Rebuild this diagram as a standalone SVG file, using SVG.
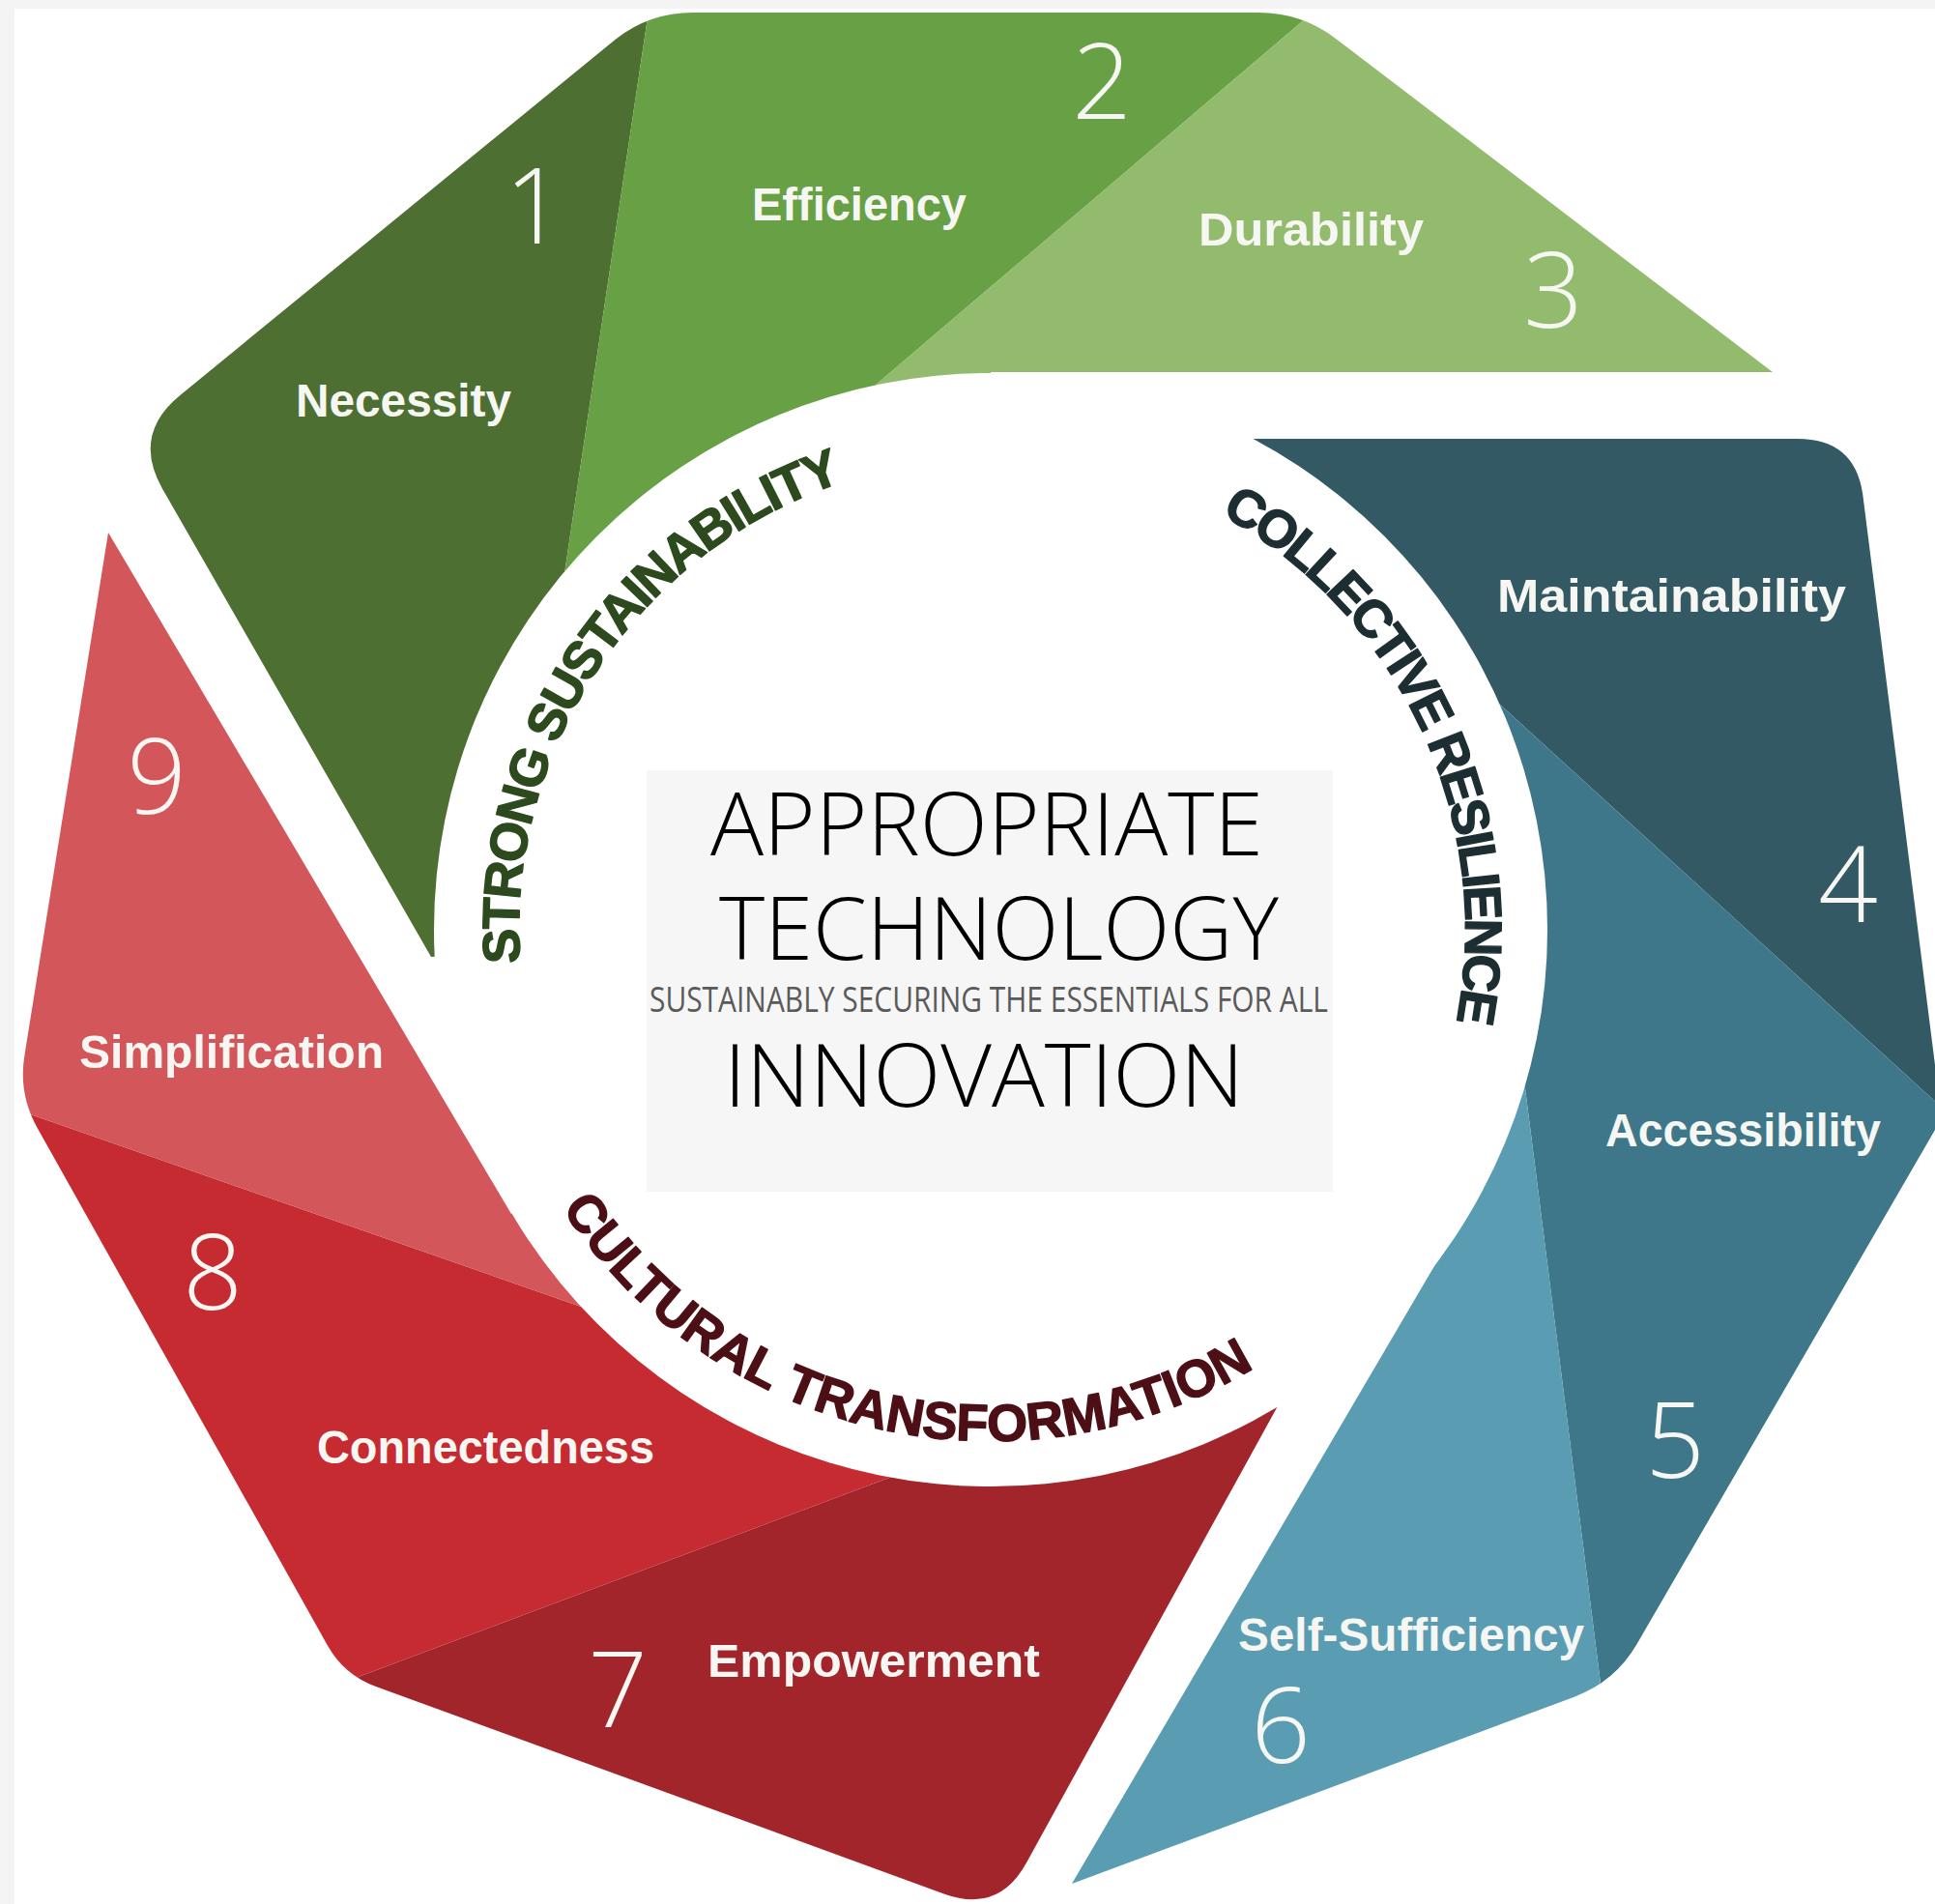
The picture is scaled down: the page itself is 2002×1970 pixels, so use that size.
<svg xmlns="http://www.w3.org/2000/svg" width="2002" height="1970" viewBox="0 0 2002 1970">
<defs>
<style>
.lbl{font-family:"Liberation Sans",Arial,sans-serif;font-weight:bold;font-size:48px;fill:#f6f6f2}
.num{font-family:"Open Sans",Roboto,sans-serif;font-weight:300;font-size:108px;fill:#f6f6f2;text-anchor:middle}
.arc{font-family:"Liberation Sans",Arial,sans-serif;font-weight:bold;font-size:54px;stroke-width:1.4;stroke-linejoin:round}
.big{font-family:"Open Sans","DejaVu Sans",sans-serif;font-weight:300;font-size:91px;fill:#000}
.sub{font-family:"Open Sans","DejaVu Sans",sans-serif;font-size:37px;fill:#5a5a5a}
</style>
<clipPath id="clip-green"><path d="M446,990 L168.4,506.4 Q136,450 186.3,408.9 L637.1,40.5 Q672,13 717,13 L1302,13 Q1347,13 1382.7,40.4 L1834,385 L1025,385 L1025,962 Z"/></clipPath>
<clipPath id="clip-teal"><path d="M1025,962 L1025,454 L1860,454 Q1920,454 1927.5,513.5 L2009,1157 L1693.6,1701.1 Q1671,1740 1628.8,1755.7 L1109,1949 L1518,1252 Z"/></clipPath>
<clipPath id="clip-red"><path d="M112,551 L25.3,1092.5 Q19,1132 38.6,1166.9 L338.9,1702.5 Q356,1733 388.9,1745 L976.6,1959.4 Q1033,1980 1061.9,1927.4 L1400,1313 L1025,962 L529,1256 Z"/></clipPath>
<mask id="hole" maskUnits="userSpaceOnUse" x="0" y="0" width="2002" height="1970"><rect width="2002" height="1970" fill="#fff"/><circle cx="1025" cy="962" r="576" fill="#000"/></mask>
<path id="p-strong" d="M538.2,996 A488,488 0 0 1 982.5,475.9"/>
<path id="p-collective" d="M1262.9,532.2 A491,491 0 0 1 1450.2,1207.5"/>
<path id="p-cultural" d="M581.3,1250.1 A529,529 0 0 0 1483.1,1226.5"/>
</defs>
<rect width="2002" height="1970" fill="#f4f4f4"/>
<rect x="15" y="9" width="1987" height="1961" fill="#fff"/>

<g id="seg1-necessity">
<g clip-path="url(#clip-green)" mask="url(#hole)"><polygon fill="#4e6f32" points="-10,-60 681.7,-60 570.4,684.4 522.6,1000 -10,1000"/></g>
<text class="lbl" x="306" y="431" textLength="223" lengthAdjust="spacingAndGlyphs">Necessity</text>
<text class="num" x="553" y="252">1</text>
</g>
<g id="seg2-efficiency">
<g clip-path="url(#clip-green)" mask="url(#hole)"><polygon fill="#68a046" points="681.7,-60 1443.7,-60 570.4,684.4"/></g>
<text class="lbl" x="778" y="228" textLength="222" lengthAdjust="spacingAndGlyphs">Efficiency</text>
<text class="num" x="1140" y="123">2</text>
</g>
<g id="seg3-durability">
<g clip-path="url(#clip-green)" mask="url(#hole)"><polygon fill="#93bb6d" points="1443.7,-60 2100,-60 2100,500 786.4,500"/></g>
<text class="lbl" x="1240" y="254" textLength="233" lengthAdjust="spacingAndGlyphs">Durability</text>
<text class="num" x="1607" y="339">3</text>
</g>

<g id="seg4-maintainability">
<g clip-path="url(#clip-teal)" mask="url(#hole)"><polygon fill="#335a64" points="1000,225.4 2100,1229 2100,200 1000,200"/></g>
<text class="lbl" x="1549" y="633" textLength="361" lengthAdjust="spacingAndGlyphs">Maintainability</text>
<text class="num" x="1912" y="954">4</text>
</g>
<g id="seg5-accessibility">
<g clip-path="url(#clip-teal)" mask="url(#hole)"><polygon fill="#3e7789" points="1524.5,704 2100,1229 2100,2010 1690,2010"/></g>
<text class="lbl" x="1661" y="1186" textLength="285" lengthAdjust="spacingAndGlyphs">Accessibility</text>
<text class="num" x="1733" y="1529">5</text>
</g>
<g id="seg6-self-sufficiency">
<g clip-path="url(#clip-teal)" mask="url(#hole)"><polygon fill="#5a9db2" points="1524.5,704 1690,2010 900,2010 900,704"/></g>
<text class="lbl" x="1281" y="1708" textLength="358" lengthAdjust="spacingAndGlyphs">Self-Sufficiency</text>
<text class="num" x="1325" y="1824">6</text>
</g>

<g id="seg7-empowerment">
<g clip-path="url(#clip-red)" mask="url(#hole)"><polygon fill="#a1252a" points="300,1761.5 1500,1311.3 1500,2100 300,2100"/></g>
<text class="lbl" x="732" y="1735" textLength="344" lengthAdjust="spacingAndGlyphs">Empowerment</text>
<text class="num" x="639" y="1787">7</text>
</g>
<g id="seg8-connectedness">
<g clip-path="url(#clip-red)" mask="url(#hole)"><polygon fill="#c52b31" points="-50,1124.6 1010.6,1494.9 -50,1892.8"/></g>
<text class="lbl" x="328" y="1514" textLength="349" lengthAdjust="spacingAndGlyphs">Connectedness</text>
<text class="num" x="220" y="1355">8</text>
</g>
<g id="seg9-simplification">
<g clip-path="url(#clip-red)" mask="url(#hole)"><polygon fill="#d3575a" points="-50,400 1500,400 1500,1311.3 1010.6,1494.9 -50,1124.6"/></g>
<text class="lbl" x="82" y="1105" textLength="315" lengthAdjust="spacingAndGlyphs">Simplification</text>
<text class="num" x="162" y="842">9</text>
</g>

<g id="theme-strong-sustainability">
<text class="arc" fill="#2c4a1d" stroke="#2c4a1d" letter-spacing="-2.2"><textPath href="#p-strong">STRONG SUSTAINABILITY</textPath></text>
</g>
<g id="theme-collective-resilience">
<text class="arc" fill="#1d2e32" stroke="#1d2e32" font-size="51" letter-spacing="-3.1"><textPath href="#p-collective">COLLECTIVE RESILIENCE</textPath></text>
</g>
<g id="theme-cultural-transformation">
<text class="arc" fill="#4d0f16" stroke="#4d0f16" letter-spacing="0"><textPath href="#p-cultural">CULTURAL TRANSFORMATION</textPath></text>
</g>

<g id="center-title">
<rect x="669" y="797" width="710" height="436" fill="#f6f6f6"/>
<text class="big" x="735" y="885" textLength="572" lengthAdjust="spacingAndGlyphs">APPROPRIATE</text>
<text class="big" x="744" y="993" textLength="579" lengthAdjust="spacingAndGlyphs">TECHNOLOGY</text>
<text class="sub" x="672" y="1047" textLength="702" lengthAdjust="spacingAndGlyphs">SUSTAINABLY SECURING THE ESSENTIALS FOR ALL</text>
<text class="big" x="749" y="1145" font-size="93" textLength="538" lengthAdjust="spacingAndGlyphs">INNOVATION</text>
</g>
<g id="connectors"></g>
</svg>
